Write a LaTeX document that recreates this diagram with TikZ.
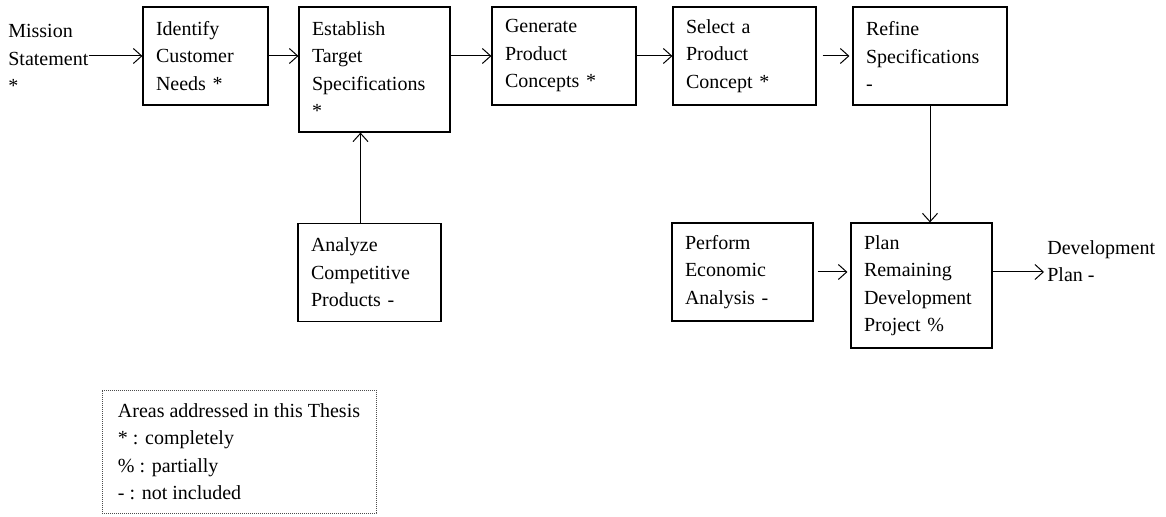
\documentclass[tikz,border=0pt]{standalone}
\usepackage{fontspec}
\setmainfont{Liberation Serif}
\usetikzlibrary{arrows.meta,calc}

\begin{document}
\begin{tikzpicture}[x=0.6pt,y=-0.6pt,
  every node/.style={font=\fontsize{12pt}{16.5pt}\selectfont},
  >={Straight Barb[length=5pt,width=9pt]},
  flow/.style={->,line width=0.6pt},
  box/.style={draw,line width=0.7pt,align=left,inner xsep=7.8pt,inner ysep=0pt,text width=#1,minimum height=58.8pt},
  tall/.style={minimum height=75pt},
  legendbox/.style={draw=black!70,dash pattern=on 0.6pt off 0.6pt,line width=0.5pt,align=left,minimum width=164.4pt,minimum height=73.8pt}]
\useasboundingbox (0,0) rectangle (1166,517);
\coordinate (c1) at (205.5,56);
\coordinate (c2) at (374.5,69.5);
\coordinate (c3) at (564,56);
\coordinate (c4) at (744.5,56);
\coordinate (c5) at (930,56);
\node[anchor=north west,inner sep=0pt,align=left] (mission) at (8,24) {Mission\\Statement\\{}*};
\node[box=59.4pt] (need) at (c1) {Identify\\Customer\\Needs *};
\node[box=75pt,tall] (target) at (c2) {Establish\\Target\\Specifications\\{}*};
\node[box=70.8pt] (generate) at (c3) {Generate\\Product\\Concepts *};
\node[box=70.2pt] (select) at (c4) {Select a\\Product\\Concept *};
\node[box=76.8pt] (refine) at (c5) {Refine\\Specifications\\-};
\node[box=70.2pt] (analyze) at (369.5,272.5) {Analyze\\Competitive\\Products -};
\node[box=69pt] (perform) at (742.5,272) {Perform\\Economic\\Analysis -};
\node[box=69pt,tall] (plan) at (921.5,285.5) {Plan\\Remaining\\Development\\Project \%};
\node[anchor=north west,inner sep=0pt,align=left] (devplan) at (1047,240) {Development\\Plan -};
\node[legendbox] (legend) at (239,451.5) {Areas addressed in this Thesis\\{}* : completely\\\% : partially\\- : not included};
\coordinate (ain) at ($(analyze.north)+(-9,0)$);
\draw[flow] (mission.east |- need.west) -- (need.west);
\draw[flow] (need.east) -- (need.east -| target.west);
\draw[flow] (target.east |- generate.west) -- (generate.west);
\draw[flow] (generate.east) -- (select.west);
\draw[flow] ($(select.east)+(6,0)$) -- ($(refine.west)+(-3,0)$);
\draw[flow] (ain) -- (ain |- target.south);
\draw[flow] (refine.south) -- (refine.south |- plan.north);
\draw[flow] ($(perform.east)+(4,0)$) -- ($(perform.east -| plan.west)+(-3,0)$);
\draw[flow] (plan.east |- perform.east) -- ($(devplan.west |- perform.east)+(-3,0)$);
\end{tikzpicture}
\end{document}
